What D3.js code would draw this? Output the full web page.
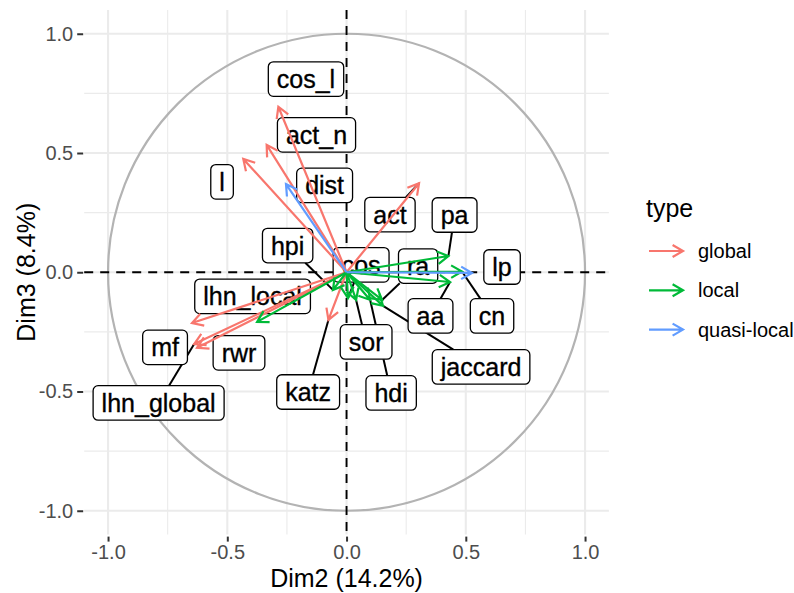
<!DOCTYPE html>
<html><head><meta charset="utf-8">
<script src="https://cdn.jsdelivr.net/npm/d3@7"></script>
<style>
body{margin:0;background:#fff}
text{font-family:"Liberation Sans",Arial,Helvetica,sans-serif}
</style>
</head><body>
<svg id="chart" width="794" height="593"></svg>
<script>
// ---------------- data ----------------
const variables = ["cos_l","act_n","l","act","katz","mf","lhn_global","rwr",
                   "pa","cn","aa","ra","jaccard","hdi","sor","cos","hpi","lhn_local",
                   "dist","lp"];
const varType = ["global","global","global","global","global","global","global","global",
                 "local","local","local","local","local","local","local","local","local","local",
                 "quasi-local","quasi-local"];
const dim2 = [-0.286,-0.335,-0.433, 0.304,-0.076,-0.648,-0.639,-0.627,
               0.427, 0.484, 0.434, 0.149, 0.153, 0.099, 0.040, 0.006,-0.057,-0.375,
              -0.254, 0.526];
const dim3 = [ 0.694, 0.534, 0.475, 0.373,-0.200,-0.213,-0.301,-0.317,
               0.068, 0.003,-0.041,-0.116,-0.141,-0.116,-0.116,-0.108,-0.074,-0.208,
               0.370,-0.003];
const typeLevels = ["global","local","quasi-local"];
const typeColors = ["#F8766D","#00BA38","#619CFF"];
const majorTicks = [-1.0,-0.5,0.0,0.5,1.0];
const minorTicks = [-0.75,-0.25,0.25,0.75];
const xTitle = "Dim2 (14.2%)";
const yTitle = "Dim3 (8.4%)";
const legendTitle = "type";

// repelled label placement (label centres, data units)
const labelX = [-0.170,-0.126,-0.522, 0.182,-0.161,-0.761,-0.788,-0.451,
                 0.453, 0.610, 0.352, 0.300, 0.564, 0.187, 0.082, 0.061,-0.247,-0.394,
                -0.092, 0.652];
const labelY = [ 0.810, 0.576, 0.379, 0.242,-0.502,-0.315,-0.548,-0.338,
                 0.240,-0.183,-0.183, 0.026,-0.397,-0.506,-0.292, 0.031, 0.112,-0.101,
                 0.364, 0.022];

// ---------------- layout ----------------
const svg = d3.select("#chart");
const x = d3.scaleLinear().domain([-1.1,1.1]).range([84.2,608.9]);
const y = d3.scaleLinear().domain([-1.1,1.1]).range([534.6,9.9]);
const color = d3.scaleOrdinal().domain(typeLevels).range(typeColors);
const [px0,px1] = x.range(), [py1,py0] = y.range();

// grid
const grid = svg.append("g");
minorTicks.forEach(v=>{
  grid.append("line").attr("x1",x(v)).attr("x2",x(v)).attr("y1",py0).attr("y2",py1)
    .attr("stroke","#EBEBEB").attr("stroke-width",1.1);
  grid.append("line").attr("y1",y(v)).attr("y2",y(v)).attr("x1",px0).attr("x2",px1)
    .attr("stroke","#EBEBEB").attr("stroke-width",1.1);
});
majorTicks.forEach(v=>{
  grid.append("line").attr("x1",x(v)).attr("x2",x(v)).attr("y1",py0).attr("y2",py1)
    .attr("stroke","#EBEBEB").attr("stroke-width",2.1);
  grid.append("line").attr("y1",y(v)).attr("y2",y(v)).attr("x1",px0).attr("x2",px1)
    .attr("stroke","#EBEBEB").attr("stroke-width",2.1);
});

// correlation circle
svg.append("circle").attr("cx",x(0)).attr("cy",y(0)).attr("r",x(1)-x(0))
  .attr("fill","none").attr("stroke","#B3B3B3").attr("stroke-width",2.2);

// dashed axes
svg.append("line").attr("x1",px0).attr("x2",px1).attr("y1",y(0)).attr("y2",y(0))
  .attr("stroke","#000").attr("stroke-width",1.9).attr("stroke-dasharray","9,7");
svg.append("line").attr("y1",py0).attr("y2",py1).attr("x1",x(0)).attr("x2",x(0))
  .attr("stroke","#000").attr("stroke-width",1.9).attr("stroke-dasharray","9,7");

// axes
const fmt = d => d.toFixed(1);
const ax = svg.append("g").attr("transform",`translate(0,${py1})`)
  .call(d3.axisBottom(x).tickValues(majorTicks).tickFormat(fmt).tickSize(7).tickPadding(3));
const ay = svg.append("g").attr("transform",`translate(${px0},0)`)
  .call(d3.axisLeft(y).tickValues(majorTicks).tickFormat(fmt).tickSize(7).tickPadding(4));
[ax,ay].forEach(g=>{
  g.select(".domain").remove();
  g.selectAll(".tick line").attr("stroke","#333").attr("stroke-width",2);
  g.selectAll(".tick text").attr("fill","#4D4D4D").style("font-size","20px")
    .style("font-family","'Liberation Sans',Arial,sans-serif");
});
ax.selectAll(".tick line").attr("y1",2);
ay.selectAll(".tick line").attr("x1",-1);

svg.append("text").attr("x",x(0)).attr("y",587).attr("text-anchor","middle")
  .style("font-size","25px").text(xTitle);
svg.append("text").attr("transform",`translate(35,${y(0)}) rotate(-90)`)
  .attr("text-anchor","middle").style("font-size","25px").text(yTitle);

// labels (segments, boxes)
const segG = svg.append("g"), labG = svg.append("g");
const padX = 8.5, boxH = 34.5;
variables.forEach((name,i)=>{
  const cx = x(labelX[i]), cy = y(labelY[i]);
  const t = labG.append("text").attr("x",cx).attr("y",cy+9).attr("text-anchor","middle")
    .style("font-size","25px").attr("fill","#000")
    .attr("stroke","#000").attr("stroke-width",0.35).text(name);
  const tw = t.node().getComputedTextLength();
  const w = tw/2 + padX, h = boxH/2;
  labG.insert("rect","text").attr("x",cx-w).attr("y",cy-h).attr("width",2*w).attr("height",2*h)
    .attr("rx",5).attr("fill","#fff").attr("stroke","#000").attr("stroke-width",1.3);
  const ptx = x(dim2[i]), pty = y(dim3[i]);
  const dx = ptx-cx, dy = pty-cy;
  const tt = Math.min(dx===0?Infinity:w/Math.abs(dx), dy===0?Infinity:h/Math.abs(dy));
  const len = Math.hypot(dx,dy)*(1-tt);
  if (tt < 1 && len > 17) {
    segG.append("line").attr("x1",cx+dx*tt).attr("y1",cy+dy*tt).attr("x2",ptx).attr("y2",pty)
      .attr("stroke","#000").attr("stroke-width",2);
  }
});
labG.selectAll("rect").lower();
labG.selectAll("text").raise();

// arrows
function arrowPath(x0,y0,x1,y1,L=12.5,ang=Math.PI/6){
  const a = Math.atan2(y1-y0,x1-x0);
  const h1x = x1 - L*Math.cos(a-ang), h1y = y1 - L*Math.sin(a-ang);
  const h2x = x1 - L*Math.cos(a+ang), h2y = y1 - L*Math.sin(a+ang);
  return `M${x0},${y0}L${x1},${y1}M${h1x},${h1y}L${x1},${y1}L${h2x},${h2y}`;
}
const arrG = svg.append("g");
typeLevels.forEach(tp=>{
  variables.forEach((name,i)=>{
    if (varType[i]!==tp) return;
    arrG.append("path").attr("d",arrowPath(x(0),y(0),x(dim2[i]),y(dim3[i])))
      .attr("fill","none").attr("stroke",color(tp)).attr("stroke-width",2.2)
      .attr("stroke-linejoin","miter").attr("stroke-linecap","butt");
  });
});

// legend
const lg = svg.append("g");
lg.append("text").attr("x",646).attr("y",217).style("font-size","25px").text(legendTitle);
typeLevels.forEach((tp,k)=>{
  const yy = 251 + k*39.3;
  lg.append("path").attr("d",arrowPath(649,yy,683,yy,12))
    .attr("fill","none").attr("stroke",color(tp)).attr("stroke-width",2.2);
  lg.append("text").attr("x",698).attr("y",yy+7).style("font-size","20px").text(tp);
});
</script>
</body></html>
